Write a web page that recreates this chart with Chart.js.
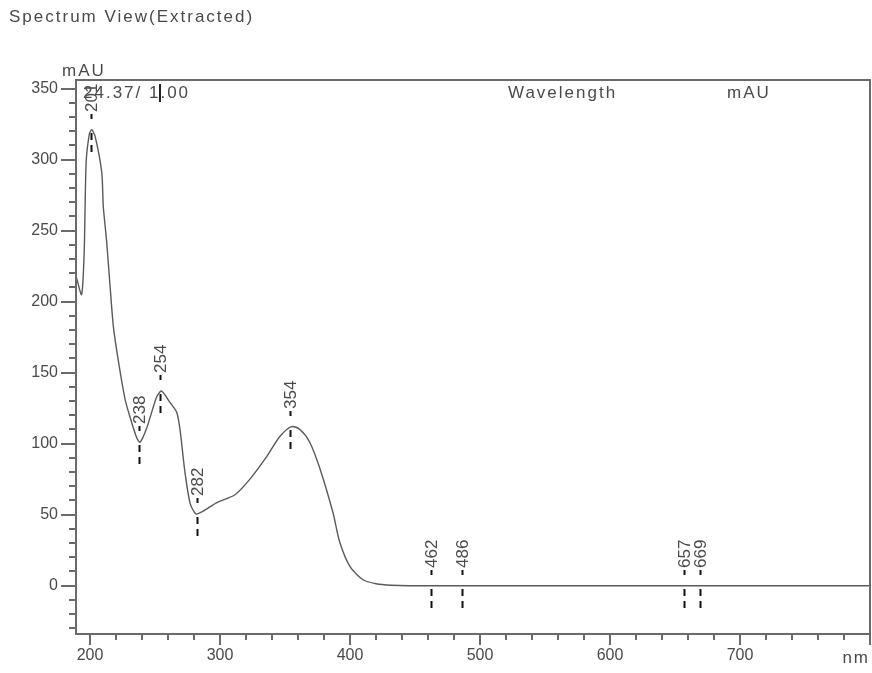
<!DOCTYPE html>
<html>
<head>
<meta charset="utf-8">
<title>Spectrum View(Extracted)</title>
<script src="https://cdn.jsdelivr.net/npm/chart.js@4.4.0/dist/chart.umd.min.js"></script>
<style>
    html, body { margin: 0; padding: 0; background: #fff; }
    #wrap { position: relative; width: 872px; height: 673px; }
</style>
</head>
<body>
<div id="wrap"><canvas id="spectrumChart" width="872" height="673"></canvas></div>
<script>
// Spectrum (wavelength in nm, absorbance in mAU)
const wavelengths = [189.5, 193.5, 195.5, 197, 199.5, 201.3, 204, 209, 210.2, 212.8, 215.4, 218, 222, 227, 232, 236, 238.5, 243.6, 251.3, 255, 261.5, 266.7, 269.2, 273, 277, 281.5, 287, 297.5, 311.5, 323, 336, 346, 355, 361.5, 369, 377, 387, 392, 400, 410, 420, 432, 445, 800];
const absorbance = [217, 205, 235, 298, 318, 321, 316, 291, 267, 242, 211, 182, 157, 131, 115, 104, 101, 111, 133, 137, 129, 122, 110, 80, 58, 50.5, 52.5, 58.5, 64, 75, 91, 105, 112, 110, 101, 82, 51, 31, 13.5, 4.2, 1.4, 0.3, 0, 0];

// Marked peaks / valleys
const peakWavelengths = [201, 238, 254, 282, 354, 462, 486, 657, 669];
const peakAbsorbance = [321, 101, 137, 50.5, 112, 0, 0, 0, 0];

// Axis labels and tick spacing
const xTickLabels = [200, 300, 400, 500, 600, 700];
const yTickLabels = [0, 50, 100, 150, 200, 250, 300, 350];
const xMinorTicks = [200, 220, 240, 260, 280, 300, 320, 340, 360, 380, 400, 420, 440, 460, 480, 500, 520, 540, 560, 580, 600, 620, 640, 660, 680, 700, 720, 740, 760, 780, 800];
const yMinorTicks = [-30, -20, -10, 0, 10, 20, 30, 40, 50, 60, 70, 80, 90, 100, 110, 120, 130, 140, 150, 160, 170, 180, 190, 200, 210, 220, 230, 240, 250, 260, 270, 280, 290, 300, 310, 320, 330, 340, 350];

const textColor = '#4a4a4a';
const axisColor = '#6a6a6a';
const fontName = '"Liberation Sans", Arial, sans-serif';

// Frame, tick marks and the header texts
const framePlugin = {
    id: 'frame',
    afterDraw(chart) {
        const ctx = chart.ctx;
        const area = chart.chartArea;
        const xScale = chart.scales.x;
        const yScale = chart.scales.y;
        ctx.save();

        // box
        ctx.strokeStyle = axisColor;
        ctx.lineWidth = 2;
        ctx.strokeRect(area.left, area.top, area.right - area.left, area.bottom - area.top);

        // tick marks
        ctx.beginPath();
        xMinorTicks.forEach(v => {
            const px = Math.round(xScale.getPixelForValue(v));
            const len = v % 100 === 0 ? 11 : 6;
            ctx.moveTo(px, area.bottom);
            ctx.lineTo(px, area.bottom + len);
        });
        yMinorTicks.forEach(v => {
            const py = Math.round(yScale.getPixelForValue(v));
            const len = v % 50 === 0 ? 15 : 7;
            ctx.moveTo(area.left, py);
            ctx.lineTo(area.left - len, py);
        });
        ctx.stroke();

        // texts
        ctx.fillStyle = textColor;
        ctx.font = '17px ' + fontName;
        ctx.textBaseline = 'alphabetic';
        ctx.letterSpacing = '2px';
        ctx.textAlign = 'left';
        ctx.fillText('Spectrum View(Extracted)', 9, 22);
        ctx.fillText('mAU', 62, 76);
        ctx.fillText('Wavelength', 508, 98);
        ctx.fillText('mAU', 727, 98);
        ctx.fillText('24.37/ 1.00', 83, 98);
        ctx.textAlign = 'right';
        ctx.fillText('nm', 870, 663);

        // cursor bar after "24.37/ 1"
        ctx.textAlign = 'left';
        const barX = 83 + ctx.measureText('24.37/ 1').width;
        ctx.fillStyle = '#222';
        ctx.fillRect(Math.round(barX) - 1, 84, 2, 18);
        ctx.restore();
    }
};

// Rotated wavelength labels with dashed markers
const peakPlugin = {
    id: 'peaks',
    afterDatasetsDraw(chart) {
        const ctx = chart.ctx;
        const xScale = chart.scales.x;
        const yScale = chart.scales.y;
        ctx.save();
        peakWavelengths.forEach((nm, i) => {
            const px = Math.round(xScale.getPixelForValue(nm)) + 0.5;
            const py = Math.round(yScale.getPixelForValue(peakAbsorbance[i]));

            ctx.strokeStyle = '#111';
            ctx.lineWidth = 2;
            ctx.beginPath();
            [[-16, -11], [3, 10], [15, 22]].forEach(([a, b]) => {
                ctx.moveTo(px, py + a);
                ctx.lineTo(px, py + b);
            });
            ctx.stroke();

            ctx.save();
            ctx.translate(px, py - 18);
            ctx.rotate(-Math.PI / 2);
            ctx.fillStyle = textColor;
            ctx.font = '17px ' + fontName;
            ctx.textAlign = 'left';
            ctx.textBaseline = 'middle';
            ctx.fillText(String(nm), 0, 1);
            ctx.restore();
        });
        ctx.restore();
    }
};

const ctx = document.getElementById('spectrumChart').getContext('2d');
const spectrumChart = new Chart(ctx, {
    type: 'line',
    data: {
        datasets: [{
            data: wavelengths.map((nm, i) => ({ x: nm, y: absorbance[i] })),
            borderColor: '#5a5a5a',
            borderWidth: 1.4,
            pointRadius: 0,
            tension: 0.25,
            fill: false
        }]
    },
    options: {
        responsive: false,
        animation: false,
        devicePixelRatio: 1,
        layout: { padding: { top: 80, right: 2, left: 0, bottom: 0 } },
        plugins: {
            legend: { display: false },
            tooltip: { enabled: false }
        },
        scales: {
            x: {
                type: 'linear',
                min: 189.2,
                max: 800,
                afterBuildTicks: (scale) => { scale.ticks = xMinorTicks.map(v => ({ value: v })); },
                afterFit: (scale) => {
                    scale.height = 39;
                    scale.paddingLeft = 0;
                    scale.paddingRight = 0;
                },
                grid: { display: false, drawTicks: false },
                border: { display: false },
                ticks: {
                    autoSkip: false,
                    maxRotation: 0,
                    padding: 12,
                    color: textColor,
                    font: { family: fontName, size: 16 },
                    callback: (v) => xTickLabels.includes(v) ? String(v) : ''
                }
            },
            y: {
                type: 'linear',
                min: -34,
                max: 356,
                afterBuildTicks: (scale) => { scale.ticks = yMinorTicks.map(v => ({ value: v })); },
                afterFit: (scale) => {
                    scale.width = 76;
                    scale.paddingTop = 0;
                    scale.paddingBottom = 0;
                },
                grid: { display: false, drawTicks: false },
                border: { display: false },
                ticks: {
                    autoSkip: false,
                    padding: 18,
                    color: textColor,
                    font: { family: fontName, size: 16 },
                    callback: (v) => yTickLabels.includes(v) ? String(v) : ''
                }
            }
        }
    },
    plugins: [peakPlugin, framePlugin]
});
</script>
</body>
</html>
